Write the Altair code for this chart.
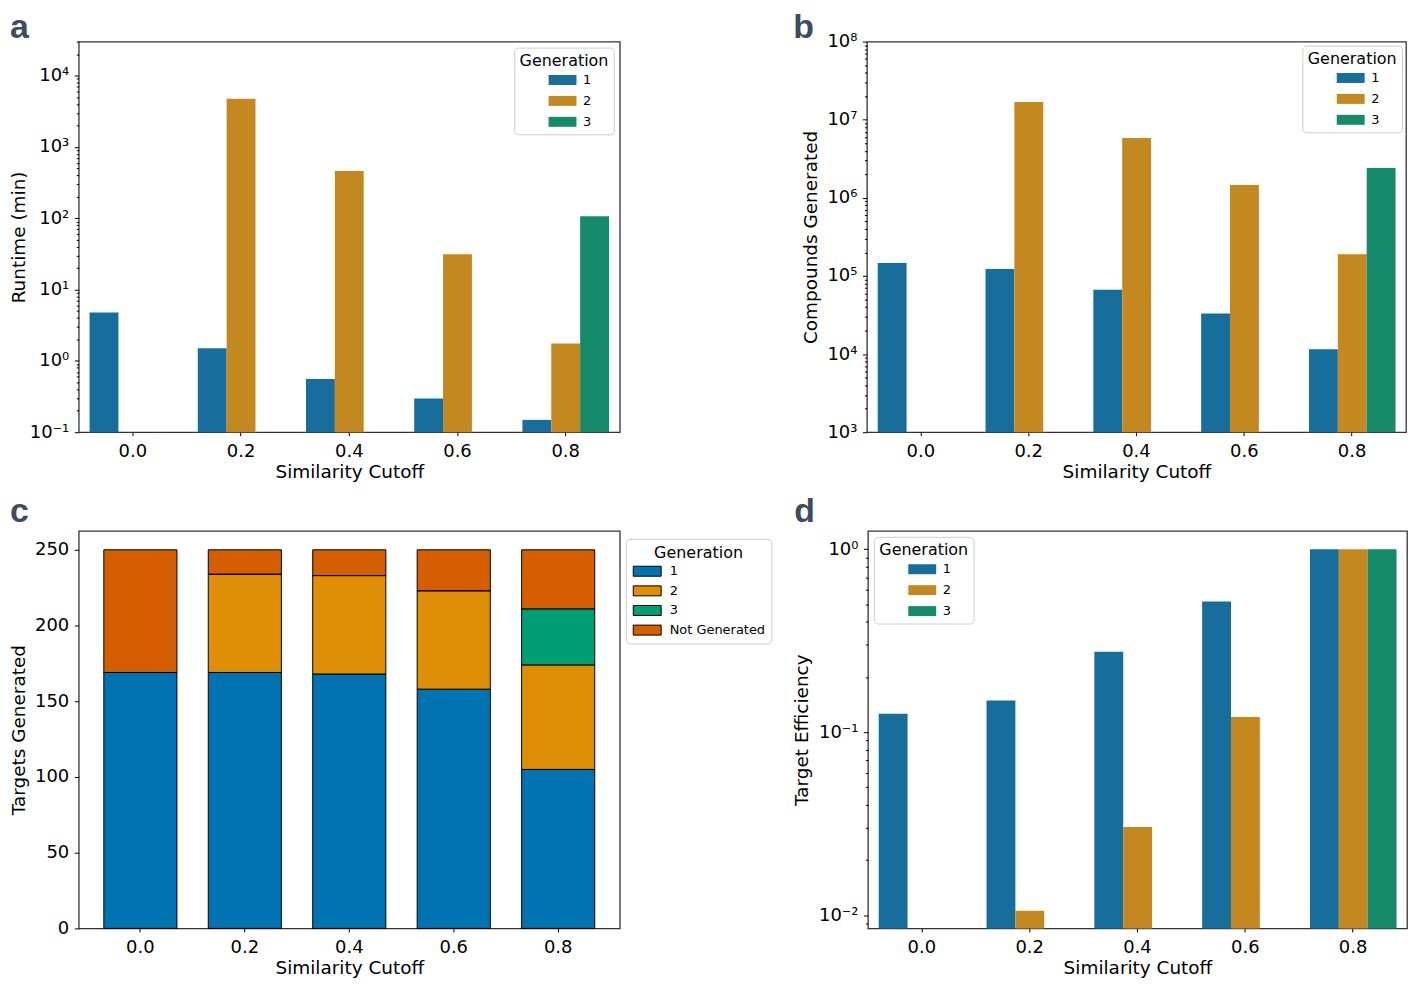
import altair as alt
import pandas as pd

# ---------------- data ----------------
cutoffs = ["0.0", "0.2", "0.4", "0.6", "0.8"]
gens = ["1", "2", "3"]

runtime_gen1 = [4.79, 1.50, 0.557, 0.296, 0.149]
runtime_gen2 = [None, 4730, 460, 31.3, 1.76]
runtime_gen3 = [None, None, None, None, 107]

compounds_gen1 = [1.47e5, 1.23e5, 6.65e4, 3.32e4, 1.15e4]
compounds_gen2 = [None, 1.69e7, 5.85e6, 1.46e6, 1.90e5]
compounds_gen3 = [None, None, None, None, 2.41e6]

targets_gen1 = [169, 169, 168, 158, 105]
targets_gen2 = [0, 65, 65, 65, 69]
targets_gen3 = [0, 0, 0, 0, 37]
targets_not = [81, 16, 17, 27, 39]
stack_cats = ["1", "2", "3", "Not Generated"]

eff_gen1 = [0.126, 0.149, 0.275, 0.517, 1.0]
eff_gen2 = [None, 0.01056, 0.0303, 0.121, 1.0]
eff_gen3 = [None, None, None, None, 1.0]

# ---------------- styling ----------------
FONT = "DejaVu Sans"
C_DESAT = ["#176D9C", "#C38820", "#158B6A"]
C_FULL = ["#0173B2", "#DE8F05", "#029E73", "#D55E00"]
LETTER_COLOR = "#3E4C60"
RECT = "M-2.8,-1L2.8,-1L2.8,1L-2.8,1Z"   # 28 x 10 px patch at symbolSize 100
SUP = {-2: "⁻²", -1: "⁻¹", 0: "⁰", 1: "¹", 2: "²", 3: "³", 4: "⁴",
       5: "⁵", 6: "⁶", 7: "⁷", 8: "⁸"}


def long_df(series):
    rows = []
    for g, vals in zip(gens, series):
        for c, v in zip(cutoffs, vals):
            if v is not None:
                rows.append({"cutoff": c, "gen": g, "value": v})
    return pd.DataFrame(rows)


EXP = "round(log(datum.value)/LN10)"
IS_DEC = f"abs(log(datum.value)/LN10 - {EXP}) < 1e-6"


def log_axis(title, lo, hi, dom, extent, tpad):
    decades = [10.0 ** k for k in range(lo, hi + 1)]
    minors = [m * 10.0 ** k for k in range(lo - 1, hi + 1) for m in range(2, 10)]
    minors = [v for v in minors if dom[0] <= v <= dom[1]]
    parts = "".join(f"{EXP} == {k} ? '10{SUP[k]}' : " for k in range(lo, hi + 1))
    expr = f"{IS_DEC} ? ({parts}'') : ''"
    return alt.Axis(
        title=title, values=decades + minors, labelExpr=expr,
        tickSize={"condition": {"test": IS_DEC, "value": 4.5}, "value": 2.5},
        labelOverlap=False, labelFlush=False, labelBound=False,
        labelFontSize=18, titleFontSize=18.5, labelPadding=5.5,
        minExtent=extent, maxExtent=extent, titlePadding=tpad,
        grid=False, domain=False, tickColor="black", labelColor="black",
        titleColor="black", titleFontWeight="normal",
    )


def x_axis():
    return alt.Axis(
        title="Similarity Cutoff", labelAngle=0, labelFontSize=18,
        titleFontSize=18.5, labelPadding=7, titlePadding=2, tickSize=3.5,
        domain=False, grid=False, tickColor="black", labelColor="black",
        titleColor="black", titleFontWeight="normal",
    )


def letter(txt, dx, offset):
    return alt.TitleParams(
        txt, anchor="start", frame="group", fontSize=34, fontWeight="bold",
        font="Liberation Sans", color=LETTER_COLOR, offset=offset, dx=dx,
    )


def gen_legend(orient, offset):
    return alt.Legend(
        title="Generation", orient=orient, offset=offset, fillColor="white",
        strokeColor="#cccccc", cornerRadius=4, padding=5, titleAnchor="middle",
        titleFontSize=16, titleFontWeight="normal", titleColor="black",
        labelFontSize=13, labelColor="black", symbolType=RECT, symbolSize=100,
        symbolStrokeWidth=0, symbolOffset=20, rowPadding=7, titlePadding=5,
        labelOffset=14, symbolOpacity=1,
    )


def grouped(df, ytitle, dom, lo, hi, extent, tpad, lorient, loffset, title, w, h):
    return alt.Chart(df, title=title).mark_bar().encode(
        x=alt.X("cutoff:N", sort=cutoffs,
                scale=alt.Scale(paddingInner=0.2, paddingOuter=0.1), axis=x_axis()),
        xOffset=alt.XOffset("gen:N", sort=gens,
                            scale=alt.Scale(domain=gens, paddingInner=0, paddingOuter=0)),
        y=alt.Y("value:Q",
                scale=alt.Scale(type="log", domain=dom, nice=False, clamp=True),
                axis=log_axis(ytitle, lo, hi, dom, extent, tpad)),
        color=alt.Color("gen:N", scale=alt.Scale(domain=gens, range=C_DESAT),
                        legend=gen_legend(lorient, loffset)),
    ).properties(width=w, height=h)


a = grouped(long_df([runtime_gen1, runtime_gen2, runtime_gen3]), "Runtime (min)",
            [0.1, 30000], -1, 4, 44, 6.5, "top-right", 6, letter("a", -69, -12), 543, 392)
b = grouped(long_df([compounds_gen1, compounds_gen2, compounds_gen3]), "Compounds Generated",
            [1e3, 1e8], 3, 8, 40, 6.5, "top-right", 4, letter("b", -74, -12), 541, 392)
d = grouped(long_df([eff_gen1, eff_gen2, eff_gen3]), "Target Efficiency",
            [0.00846, 1.259], -2, 0, 44, 12.5, "top-left", 6, letter("d", -74, 2), 541, 399)

# stacked panel c
rows = []
for i, (cat, vals) in enumerate(zip(stack_cats, [targets_gen1, targets_gen2, targets_gen3, targets_not])):
    for c, v in zip(cutoffs, vals):
        rows.append({"cutoff": c, "cat": cat, "count": v, "order": i})
df_c = pd.DataFrame(rows)

c = alt.Chart(df_c, title=letter("c", -69, 2)).mark_bar(stroke="black", strokeWidth=1).encode(
    x=alt.X("cutoff:N", sort=cutoffs,
            scale=alt.Scale(paddingInner=0.3, paddingOuter=0.24), axis=x_axis()),
    y=alt.Y("count:Q", stack="zero", scale=alt.Scale(domain=[0, 262.5], nice=False),
            axis=alt.Axis(title="Targets Generated", values=[0, 50, 100, 150, 200, 250],
                          labelFontSize=18, titleFontSize=18.5, labelPadding=5.5, tickSize=4.5,
                          minExtent=44, maxExtent=44, titlePadding=6.5, labelFlush=False,
                          grid=False, domain=False, tickColor="black", labelColor="black",
                          titleColor="black", titleFontWeight="normal")),
    color=alt.Color("cat:N", scale=alt.Scale(domain=stack_cats, range=C_FULL),
                    legend=alt.Legend(
                        title="Generation", orient="none", legendX=549, legendY=8,
                        fillColor="white", strokeColor="#cccccc", cornerRadius=4,
                        padding=6, titleAnchor="middle", titleFontSize=16,
                        titleFontWeight="normal", titleColor="black", labelFontSize=13,
                        labelColor="black", symbolType=RECT, symbolSize=100,
                        symbolStrokeColor="black", symbolStrokeWidth=1, rowPadding=4.7,
                        symbolOffset=9, titlePadding=4, labelOffset=16, symbolOpacity=1)),
    order=alt.Order("order:Q", sort="ascending"),
).properties(width=543, height=399)

top = alt.hconcat(a, b, spacing=172).resolve_scale(color="independent").resolve_legend(color="independent")
bottom = alt.hconcat(c, d, spacing=18).resolve_scale(color="independent").resolve_legend(color="independent")
chart = alt.vconcat(top, bottom, spacing=12).resolve_scale(
    color="independent").resolve_legend(color="independent").properties(
    padding={"left": 0, "top": 0, "right": 0, "bottom": 0}
).configure(font=FONT).configure_view(stroke="#333333", strokeWidth=1.3)

chart.save("out.html", embed_options={"renderer": "svg", "actions": False})
